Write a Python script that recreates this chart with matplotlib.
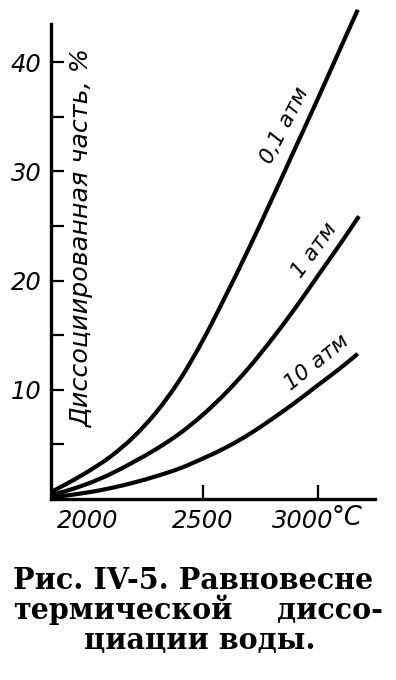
import matplotlib
matplotlib.use("Agg")
import matplotlib.pyplot as plt
import matplotlib.transforms as mtransforms
from matplotlib.path import Path
from matplotlib.patches import PathPatch
from matplotlib.ticker import MultipleLocator

# ---- data ----
temp_01 = [1845, 1900, 2000, 2100, 2200, 2300, 2400, 2500, 2600, 2700, 2800, 2900, 3000, 3100, 3175]
frac_01 = [0.7, 1.3, 2.5, 3.9, 5.7, 8.0, 10.9, 14.5, 18.6, 22.9, 27.4, 32.0, 36.6, 41.3, 44.8]

temp_1 = [1845, 1900, 2000, 2100, 2200, 2300, 2400, 2500, 2600, 2700, 2800, 2900, 3000, 3100, 3180]
frac_1 = [0.4, 0.7, 1.4, 2.3, 3.4, 4.6, 6.0, 7.7, 9.7, 12.0, 14.6, 17.4, 20.4, 23.4, 25.9]

temp_10 = [1845, 1900, 2000, 2100, 2200, 2300, 2400, 2500, 2600, 2700, 2800, 2900, 3000, 3100, 3175]
frac_10 = [0.15, 0.3, 0.6, 1.0, 1.5, 2.1, 2.8, 3.7, 4.7, 5.9, 7.3, 8.8, 10.4, 12.0, 13.3]

curve_labels = ["0,1 атм", "1 атм", "10 атм"]
x_ticks = [2000, 2500, 3000]
x_ticklabels = ["2000", "2500", "3000"]
y_ticks = [0, 10, 20, 30, 40]
y_ticklabels = ["", "10", "20", "30", "40"]
y_label = "Диссоциированная часть, %"
x_unit = "°C"
caption_1 = "Рис. IV-5. Равновесне"
caption_2a = "термической"
caption_2b = "диссо-"
caption_3 = "циации воды."

W, H = 396, 680
fig = plt.figure(figsize=(W / 100, H / 100), dpi=100)
ax = fig.add_axes([51 / W, 1 - 499 / H, (375 - 51) / W, (499 - 24) / H])
ax.set_xlim(1840, 3250)
ax.set_ylim(0, 43.5)


def smooth_curve(ax, xs, ys, **kw):
    """Draw a smooth curve through the data points (Catmull-Rom as cubic Beziers)."""
    pts = list(zip(xs, ys))
    verts = [pts[0]]
    codes = [Path.MOVETO]
    n = len(pts)
    for i in range(n - 1):
        p0 = pts[i - 1] if i > 0 else pts[i]
        p1 = pts[i]
        p2 = pts[i + 1]
        p3 = pts[i + 2] if i + 2 < n else pts[i + 1]
        c1 = (p1[0] + (p2[0] - p0[0]) / 6, p1[1] + (p2[1] - p0[1]) / 6)
        c2 = (p2[0] - (p3[0] - p1[0]) / 6, p2[1] - (p3[1] - p1[1]) / 6)
        verts += [c1, c2, p2]
        codes += [Path.CURVE4] * 3
    patch = PathPatch(Path(verts, codes), fill=False, transform=ax.transData,
                      clip_on=False, **kw)
    ax.add_patch(patch)


for t, f in [(temp_01, frac_01), (temp_1, frac_1), (temp_10, frac_10)]:
    smooth_curve(ax, t, f, edgecolor="black", lw=3.0, capstyle="butt", joinstyle="round")

for s in ["top", "right"]:
    ax.spines[s].set_visible(False)
for s in ["left", "bottom"]:
    ax.spines[s].set_linewidth(2.4)

tfont = dict(family="DejaVu Sans", style="italic", size=17.5)
ax.set_yticks(y_ticks)
ax.set_yticklabels(y_ticklabels, fontdict=tfont)
ax.yaxis.set_minor_locator(MultipleLocator(5))
ax.tick_params(axis="y", which="both", direction="in", length=9, width=1.6, pad=7)
ax.set_xticks(x_ticks)
ax.set_xticklabels(x_ticklabels, fontdict=tfont)
ax.tick_params(axis="x", which="both", direction="in", length=10, width=1.6, pad=7)
ax.xaxis.get_major_ticks()[0].tick1line.set_visible(False)
# the "3000" label sits a little left of its tick in the original
lbl = ax.get_xticklabels()[2]
lbl.set_transform(lbl.get_transform() + mtransforms.ScaledTranslation(-15 / 100, 0, fig.dpi_scale_trans))

ax.annotate(x_unit, xy=(332 / W, 1 - 505 / H), xycoords="figure fraction",
            ha="left", va="top", family="DejaVu Sans", style="italic", size=18.5)

# y label inside the axes
ax.text((82 - 51) / 324, (499 - 427) / 475, y_label, transform=ax.transAxes, rotation=90,
        ha="center", va="bottom", family="DejaVu Sans", style="italic", size=18.3)

# curve labels
lab_font = dict(family="DejaVu Sans", style="italic", size=15.5)
ax.text(2858, 34.2, curve_labels[0], rotation=63, ha="center", va="center", **lab_font)
ax.text(2987, 22.8, curve_labels[1], rotation=54, ha="center", va="center", **lab_font)
ax.text(2996, 12.5, curve_labels[2], rotation=39, ha="center", va="center", **lab_font)

# caption
cfont = dict(family="DejaVu Serif", weight="bold", size=20.6)
fig.text(13 / W, 1 - 589 / H, caption_1, ha="left", va="baseline", **cfont)
fig.text(13 / W, 1 - 619 / H, caption_2a, ha="left", va="baseline", **cfont)
fig.text(383 / W, 1 - 619 / H, caption_2b, ha="right", va="baseline", **cfont)
fig.text(200 / W, 1 - 649 / H, caption_3, ha="center", va="baseline", **cfont)

fig.savefig("out.png", dpi=100)
